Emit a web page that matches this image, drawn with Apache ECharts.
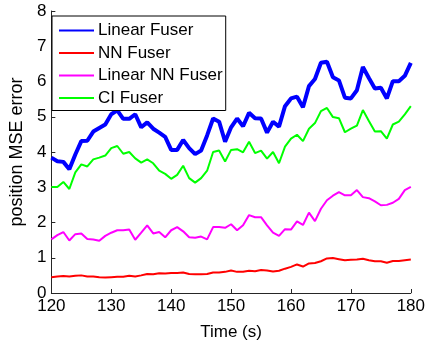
<!DOCTYPE html>
<html>
<head>
<meta charset="utf-8">
<script src="https://cdn.jsdelivr.net/npm/echarts@6/dist/echarts.min.js"></script>
<style>html,body{margin:0;padding:0;background:#fff;}#c{width:428px;height:346px;}</style>
</head>
<body>
<div id="c"></div>
<script>
const timeStart = 120;
const linearFuser = [3.84,3.74,3.72,3.51,3.93,4.31,4.32,4.58,4.68,4.78,5.07,5.18,4.94,4.94,5.07,4.70,4.84,4.66,4.55,4.43,4.06,4.06,4.34,4.11,3.94,4.04,4.47,4.95,4.86,4.29,4.70,4.95,4.73,5.11,4.96,4.95,4.55,4.86,4.72,5.30,5.52,5.57,5.27,5.87,6.07,6.53,6.56,6.12,6.03,5.54,5.52,5.75,6.41,6.10,5.80,5.82,5.52,6.01,6.01,6.16,6.53];
const nnFuser = [0.45,0.47,0.48,0.47,0.49,0.50,0.47,0.47,0.45,0.44,0.45,0.46,0.46,0.49,0.47,0.50,0.54,0.53,0.56,0.55,0.57,0.57,0.58,0.54,0.53,0.53,0.54,0.58,0.58,0.60,0.64,0.60,0.60,0.63,0.62,0.65,0.64,0.61,0.63,0.69,0.74,0.81,0.75,0.84,0.85,0.90,0.98,0.99,0.96,0.93,0.94,0.95,0.97,0.93,0.90,0.90,0.86,0.91,0.91,0.93,0.95];
const linearNNFuser = [1.52,1.64,1.73,1.49,1.67,1.69,1.53,1.52,1.48,1.62,1.71,1.78,1.78,1.80,1.51,1.71,1.92,1.69,1.73,1.58,1.78,1.87,1.75,1.58,1.57,1.60,1.52,1.87,1.87,1.85,1.95,1.78,1.92,2.21,2.15,2.15,1.92,1.71,1.62,1.81,1.80,2.03,1.93,2.28,2.04,2.39,2.63,2.76,2.86,2.77,2.77,2.92,2.72,2.69,2.60,2.49,2.50,2.56,2.67,2.92,3.01];
const ciFuser = [3.01,3.01,3.15,2.95,3.42,3.65,3.59,3.79,3.84,3.90,4.11,4.17,3.95,4.00,3.82,3.70,3.79,3.68,3.47,3.38,3.24,3.35,3.61,3.26,3.13,3.26,3.47,4.00,4.04,3.73,4.06,4.08,3.99,4.29,3.97,4.04,3.81,4.00,3.68,4.15,4.38,4.49,4.31,4.66,4.82,5.16,5.25,4.99,4.96,4.56,4.66,4.75,5.19,4.88,4.58,4.59,4.38,4.78,4.86,5.07,5.30];
const seriesNames = ['Linear Fuser','NN Fuser','Linear NN Fuser','CI Fuser'];
const seriesColors = ['#0000ff','#ff0000','#ff00ff','#00ff00'];
const seriesWidths = [4,2,2,2];
const allValues = [linearFuser, nnFuser, linearNNFuser, ciFuser];

function pairs(arr){ return arr.map((v,i)=>[timeStart+i, v]); }

const FONT = 'Liberation Sans, Arial, Helvetica, sans-serif';
const axisCol = '#262626';
const chart = echarts.init(document.getElementById('c'), null, {renderer:'canvas'});
chart.setOption({
  animation:false,
  backgroundColor:'#fff',
  grid:{left:42,right:14,top:11,bottom:43,containLabel:false},
  legend:{
    orient:'vertical', left:52, top:16,
    data:seriesNames,
    itemWidth:35, itemHeight:14, itemGap:5.5,
    padding:[6,3,4,6],
    borderColor:'#000', borderWidth:1, backgroundColor:'#fff',
    itemStyle:{opacity:0},
    textStyle:{fontFamily:FONT,fontSize:17,color:'#000',padding:[0,0,0,-1]},
    selectedMode:false,
    z:20
  },
  xAxis:{
    type:'value', min:120, max:180, interval:10,
    name:'Time (s)', nameLocation:'middle', nameGap:31,
    nameTextStyle:{fontFamily:FONT,fontSize:17,color:'#000'},
    axisLine:{show:true,onZero:false,lineStyle:{color:axisCol,width:1}},
    axisTick:{show:true,inside:true,length:4,lineStyle:{color:axisCol}},
    axisLabel:{fontFamily:FONT,fontSize:17,color:'#000',margin:5},
    splitLine:{show:false}
  },
  yAxis:{
    type:'value', min:0, max:8, interval:1,
    name:'position MSE error', nameLocation:'middle', nameGap:24,
    nameTextStyle:{fontFamily:FONT,fontSize:18,color:'#000'},
    axisLine:{show:true,lineStyle:{color:axisCol,width:1}},
    axisTick:{show:true,inside:true,length:4,lineStyle:{color:axisCol}},
    axisLabel:{fontFamily:FONT,fontSize:17,color:'#000',margin:5},
    splitLine:{show:false}
  },
  series: seriesNames.map((n,k)=>({
    name:n, type:'line', data:pairs(allValues[k]),
    symbol:'none', showSymbol:false,
    lineStyle:{color:seriesColors[k],width:seriesWidths[k]},
    itemStyle:{color:seriesColors[k]},
    z: 6-k
  }))
});
</script>
</body>
</html>
